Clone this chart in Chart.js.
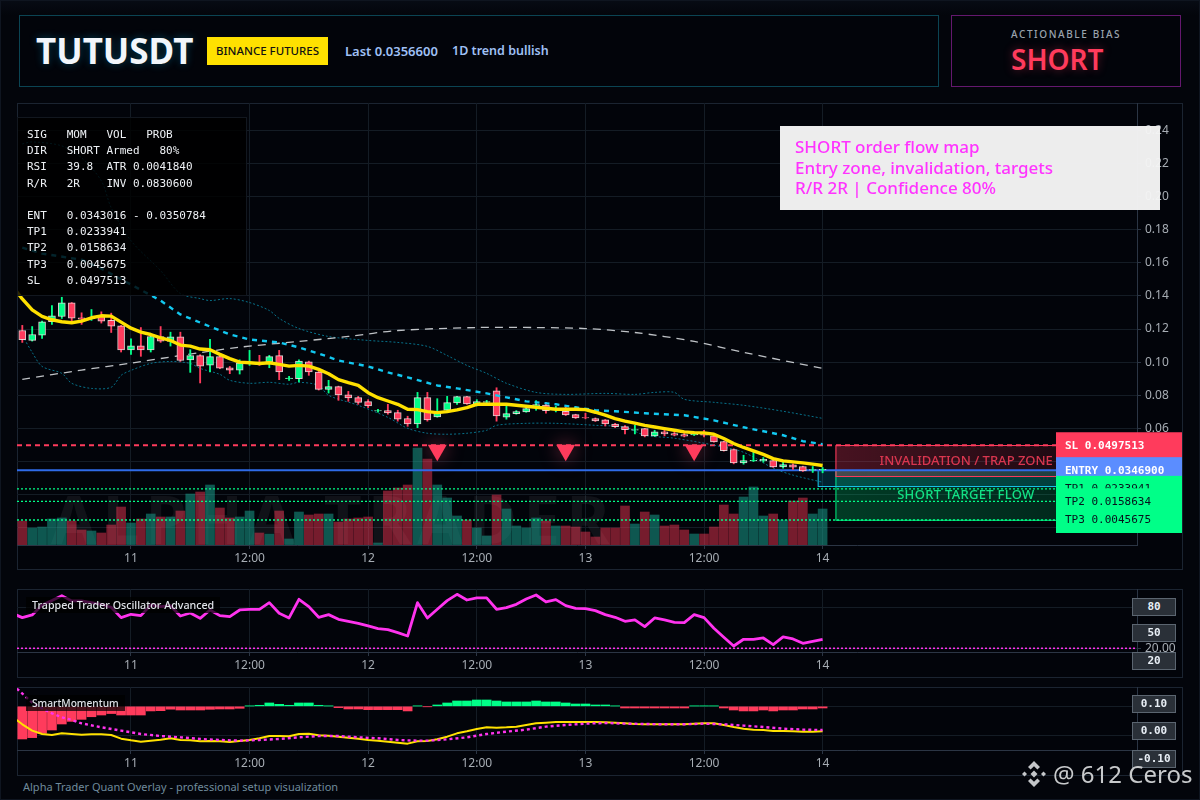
<!DOCTYPE html>
<html><head><meta charset="utf-8">
<script src="https://cdn.jsdelivr.net/npm/chart.js@4"></script>
<style>
html,body{margin:0;padding:0;width:1200px;height:800px;overflow:hidden;background:#03050b;}
body{position:relative;font-family:"Noto Sans",sans-serif;}
.abs{position:absolute;white-space:pre;}
.pane{position:absolute;box-sizing:border-box;border:1px solid #1b2431;background:#02040a;left:17px;width:1166px;}
canvas{position:absolute;left:17px;}
.badge{position:absolute;left:1132px;width:44px;height:18px;box-sizing:border-box;background:#2a3038;border:1px solid #5b6570;color:#e8eef5;font:bold 11px/16px "DejaVu Sans Mono",monospace;text-align:center;}
.paneTitle{position:absolute;left:26px;height:16px;background:rgba(0,0,0,.72);color:#dfe3e8;font:500 10.7px/16px "Noto Sans",sans-serif;padding:0 6px;white-space:pre;}
</style></head><body>
<div class="abs" style="left:0;top:0;width:1200px;height:800px;box-sizing:border-box;border:1px solid #0f1520;background:linear-gradient(180deg,#070b14 0,#03050b 14px);"></div>
<div class="abs" style="left:19px;top:15px;width:920px;height:72px;box-sizing:border-box;border:1px solid #0b4453;background:#02040a;"></div>
<div class="abs" style="left:951px;top:15px;width:230px;height:72px;box-sizing:border-box;border:1px solid #64186e;background:#02040a;"></div>
<div class="abs" style="left:36px;top:26px;font:bold 35px/50px 'Noto Sans',sans-serif;color:#f2f6fb;text-shadow:0 0 8px rgba(0,200,255,.3);">TUTUSDT</div>
<div class="abs" style="left:207px;top:37px;width:121px;height:28px;background:#ffe100;color:#111;font:500 11.5px/28px 'Noto Sans',sans-serif;text-align:center;">BINANCE FUTURES</div>
<div class="abs" style="left:345px;top:42px;font:600 13px/18px 'Noto Sans',sans-serif;color:#9fc0f5;">Last 0.0356600</div>
<div class="abs" style="left:452px;top:42px;font:600 12.5px/18px 'Noto Sans',sans-serif;color:#9fc0f5;">1D trend bullish</div>
<div class="abs" style="left:1011px;top:26px;font:500 10px/16px 'Noto Sans',sans-serif;letter-spacing:1.6px;color:#9aa3ad;">ACTIONABLE BIAS</div>
<div class="abs" style="left:1011px;top:38px;font:600 28px/42px 'Noto Sans',sans-serif;color:#ff3b5c;text-shadow:0 0 10px rgba(255,59,92,.4);">SHORT</div>

<div class="pane" style="top:103px;height:467px;"></div>
<div class="pane" style="top:589px;height:89px;"></div>
<div class="pane" style="top:687px;height:89px;"></div>

<canvas id="mainC" width="1166" height="467" style="top:103px;"></canvas>
<canvas id="oscC" width="1166" height="89" style="top:589px;"></canvas>
<canvas id="momC" width="1166" height="89" style="top:687px;"></canvas>

<div class="abs" style="left:17px;top:117px;width:230px;height:179px;box-sizing:border-box;border:1px solid #12171f;background:rgba(0,0,0,.82);color:#eef1f5;font:11px/16.2px 'DejaVu Sans Mono',monospace;padding:9px 0 0 9px;">SIG   MOM   VOL   PROB
DIR   SHORT Armed   80%
RSI   39.8  ATR 0.0041840
R/R   2R    INV 0.0830600

ENT   0.0343016 - 0.0350784
TP1   0.0233941
TP2   0.0158634
TP3   0.0045675
SL    0.0497513</div>
<div class="abs" style="left:780px;top:126px;width:380px;height:84px;box-sizing:border-box;background:rgba(245,245,245,.97);color:#ff33ff;font:500 17px/20.5px 'Noto Sans',sans-serif;padding:11px 0 0 15px;">SHORT order flow map
Entry zone, invalidation, targets
R/R 2R | Confidence 80%</div>

<div class="paneTitle" style="top:597px;">Trapped Trader Oscillator Advanced</div>
<div class="paneTitle" style="top:695px;font-size:10.2px;">SmartMomentum</div>
<div class="badge" style="top:598px;">80</div>
<div class="badge" style="top:624px;">50</div>
<div class="badge" style="top:652px;">20</div>
<div class="badge" style="top:695px;">0.10</div>
<div class="badge" style="top:722px;">0.00</div>
<div class="badge" style="top:750px;">-0.10</div>
<div class="abs" style="left:23px;top:779px;font:11px/16px 'Noto Sans',sans-serif;color:#6f8b9c;">Alpha Trader Quant Overlay - professional setup visualization</div>
<svg class="abs" style="left:1020px;top:760px;" width="28" height="28" viewBox="0 0 28 28"><g fill="#c4c6c9"><path d="M14 1l6 6-2.6 2.6L14 6.2l-3.4 3.4L8 7z"/><path d="M14 27l6-6-2.6-2.6L14 21.800l-3.400-3.400L8 21z"/><path d="M14 10.500l3.500 3.500-3.500 3.500-3.500-3.500z"/><path d="M4.500 11.500l2.500 2.500-2.500 2.500L2 14z"/><path d="M23.500 11.500L26 14l-2.500 2.500L21 14z"/></g></svg>
<div class="abs" style="left:1053px;top:756px;font:24px/36px 'Noto Sans',sans-serif;color:#c8cacc;">@ 612 Ceros</div>

<script>
// ---------- categories / ticks ----------
const timeTickIndex = [11,23,35,46,57,69,81];
const timeTickLabels = ['11','12:00','12','12:00','13','12:00','14'];
const priceTicks = [0,0.02,0.04,0.06,0.08,0.10,0.12,0.14,0.16,0.18,0.20,0.22,0.24];
const oscTicks = [20,80];
const momTicks = [0,-0.1];
const xMin = -0.536, xMax = 112.82;

// ---------- candles ----------
const highs = [.1222,.1215,.1248,.1342,.1392,.1360,.1298,.1318,.1304,.1296,.1222,.1141,.1209,.1160,.1215,.1181,.1181,.1075,.1045,.1137,.1035,.0974,.1014,.1071,.1041,.1041,.1071,.0914,.1014,.1006,.0946,.0890,.0855,.0823,.0793,.0773,.0715,.0745,.0709,.0673,.0817,.0817,.0779,.0793,.0793,.0793,.0773,.0769,.0845,.0733,.0707,.0739,.0767,.0757,.0733,.0729,.0685,.0691,.0663,.0653,.0630,.0616,.0618,.0600,.0588,.0588,.0576,.0576,.0578,.0588,.0560,.0522,.0476,.0437,.0455,.0423,.0407,.0397,.0385,.0371,.0369,.0363];
const lows = [.1119,.1127,.1143,.1228,.1264,.1242,.1228,.1252,.1236,.1179,.1061,.1047,.1035,.1061,.1119,.1097,.1004,.0938,.0874,.0940,.0960,.0930,.0928,.0980,.0980,.0966,.0894,.0890,.0880,.0920,.0831,.0813,.0769,.0763,.0745,.0725,.0697,.0685,.0643,.0612,.0604,.0643,.0667,.0697,.0745,.0745,.0735,.0749,.0643,.0655,.0685,.0697,.0709,.0691,.0699,.0677,.0659,.0657,.0641,.0614,.0604,.0566,.0566,.0548,.0550,.0554,.0554,.0548,.0556,.0548,.0516,.0462,.0385,.0383,.0399,.0395,.0363,.0359,.0351,.0339,.0333,.0331];
const opens = [.1191,.1131,.1163,.1244,.1276,.1358,.1268,.1262,.1282,.1252,.1220,.1073,.1099,.1073,.1155,.1125,.1153,.1013,.1039,.0982,.1033,.0966,.0952,.0996,.1000,.1000,.1039,.0900,.0900,.1002,.0940,.0835,.0852,.0803,.0785,.0761,.0705,.0707,.0695,.0659,.0626,.0785,.0669,.0709,.0753,.0791,.0745,.0757,.0827,.0667,.0689,.0699,.0731,.0741,.0711,.0703,.0683,.0665,.0659,.0651,.0626,.0610,.0588,.0598,.0554,.0578,.0568,.0562,.0560,.0564,.0554,.0520,.0472,.0391,.0403,.0403,.0405,.0367,.0379,.0369,.0347,.0349];
const closes = [.1135,.1167,.1244,.1280,.1358,.1266,.1260,.1266,.1248,.1218,.1073,.1099,.1073,.1155,.1127,.1153,.1010,.1039,.0976,.1033,.0964,.0952,.0994,.1000,.0994,.1033,.0940,.0904,.1006,.0940,.0835,.0852,.0801,.0783,.0757,.0735,.0707,.0693,.0655,.0626,.0785,.0650,.0697,.0755,.0791,.0747,.0761,.0761,.0675,.0689,.0701,.0719,.0743,.0707,.0717,.0681,.0663,.0663,.0645,.0626,.0610,.0592,.0592,.0554,.0578,.0566,.0558,.0552,.0564,.0558,.0518,.0464,.0391,.0405,.0407,.0413,.0367,.0381,.0365,.0343,.0351,.0352];
const volumes = [24,17,18,26,27,24,15,14,12,20,38,22,26,31,28,28,34,51,53,60,37,27,28,34,12,11,34,6,33,30,31,31,23,26,27,28,2,54,57,60,97,86,60,47,29,25,17,9,50,36,19,17,27,24,19,19,18,13,8,17,17,39,21,33,30,19,20,15,11,11,18,40,31,48,58,29,31,25,44,47,31,36];

// ---------- main overlays (first value of emaLine sits one bar before the first candle) ----------
const emaLine = [.146,.1382,.1316,.1276,.1256,.1244,.1238,.1248,.1268,.1280,.1278,.1242,.1205,.1181,.1167,.1147,.1131,.1103,.1097,.1079,.1075,.1047,.1021,.1000,.0996,.0992,.0996,.0986,.0976,.0980,.0976,.0956,.0930,.0894,.0876,.0860,.0815,.0785,.0765,.0745,.0715,.0713,.0701,.0695,.0701,.0711,.0725,.0745,.0745,.0745,.0745,.0739,.0733,.0727,.0721,.0715,.0715,.0715,.0713,.0697,.0679,.0659,.0643,.0631,.0618,.0608,.0598,.0588,.0578,.0574,.0572,.0564,.0538,.0508,.0484,.0464,.0442,.0417,.0403,.0397,.0391,.0383,.0375];
const smaIndex = [0,2,6,8,11,14,16,18,21,23,26,28,30,32,35,37,39,42,44,47,49,51,54,56,58,60,63,67,70,73,77,79,81];
const smaValues = [.1692,.1656,.1619,.1565,.1469,.1372,.1288,.1239,.1167,.1137,.1119,.1089,.1052,.1010,.0974,.0938,.0908,.0859,.0841,.0811,.0787,.0763,.0745,.0727,.0709,.0703,.0691,.0679,.0648,.0606,.0558,.0522,.0504];
const bandUpperIndex = [0,1,4,6,8,9,11,14,16,18,19,21,23,25,26,28,31,35,38,41,43,45,47,49,52,55,59,62,64,66,67,70,73,77,81];
const bandUpperValues = [.2319,.2331,.2307,.2235,.2096,.1933,.1734,.1553,.1414,.1384,.1372,.1384,.1360,.1312,.1264,.1203,.1155,.1131,.1119,.1095,.1040,.0980,.0932,.0872,.0817,.0805,.0811,.0805,.0817,.0817,.0775,.0757,.0739,.0703,.0660];
const bandLowerIndex = [0,1,2,4,5,7,9,10,11,13,15,17,18,20,21,23,25,27,28,30,31,34,37,39,41,43,45,47,48,51,54,58,61,63,66,70,73,76,78,81];
const bandLowerValues = [.1161,.1059,.0974,.0932,.0872,.0841,.0848,.0920,.0950,.0992,.1004,.0992,.0962,.0926,.0890,.0872,.0878,.0866,.0878,.0859,.0799,.0739,.0666,.0600,.0570,.0564,.0570,.0588,.0618,.0630,.0630,.0618,.0606,.0558,.0540,.0498,.0455,.0359,.0317,.0274];
const longMaIndex = [0,6,11,16,22,28,33,38,46,52,57,62,68,73,81];
const longMaValues = [.0896,.0952,.0994,.1040,.1090,.1125,.1155,.1191,.1209,.1209,.1203,.1179,.1125,.1059,.0962];
const signalIndex = [42,55,68];
const signalValues = [.0467,.0467,.0467];

// ---------- levels ----------
const levelSL = 0.0497513, levelEntry = 0.03469, levelTP1 = 0.0233941, levelTP2 = 0.0158634, levelTP3 = 0.0045675;
const levelLabels = ['SL 0.0497513','ENTRY 0.0346900','TP1 0.0233941','TP2 0.0158634','TP3 0.0045675'];
const zoneStartIndex = 82.3, entryBoxStartIndex = 80.5, zoneEndIndex = 107;
const trapZone = [levelSL, 0.0310], targetZone = [levelEntry, levelTP3], entryBox = [levelEntry, 0.0250];

// ---------- oscillator ----------
const oscLine = [71,64.9,68.8,83.4,89.8,97.1,89.3,89.3,86.8,84.4,80,64.9,69.8,67.8,83.4,81,82.4,67.3,71.7,63.9,76.1,67.8,66.3,76.1,77.1,77.1,86.8,71.2,64.4,91.7,81,65.4,69.3,62.4,59.5,56.6,52.7,48.8,47.3,42.9,38,86.8,64.4,77.1,89.8,99,90.7,93.7,93.7,77.1,79.5,84.4,92.2,98,87.8,91.2,82.4,78.5,78,75.1,69.3,65.4,59.5,61.5,51.7,64.4,61.5,58,57.6,69.3,64.9,49.3,36.1,23.4,33.2,33.2,35.1,25.4,36.6,33.7,27.3,30.2,33.2];
const oscLevel = 20;

// ---------- momentum ----------
const momHist = [-.1127,-.108,-.093,-.0817,-.061,-.052,-.045,-.036,-.030,-.025,-.030,-.030,-.030,-.016,-.015,-.010,-.0127,-.0127,-.0127,-.0104,-.0092,-.0092,-.0069,.001,.0035,.0115,.0069,.0035,.0115,.0115,.0035,.001,-.0046,-.0092,-.0092,-.0115,-.0115,-.0115,-.0115,-.016,.001,-.001,.0046,.0115,.0184,.0184,.0218,.0218,.0184,.015,.015,.015,.0184,.015,.015,.0115,.008,.008,.0046,.0046,.001,-.0058,-.0058,-.0058,-.0058,-.0058,-.0058,-.0058,.001,.001,.001,-.0058,-.0127,-.016,-.016,-.0127,-.016,-.0127,-.0127,-.0092,-.0092,-.0058];
const momLine = [-.0357,-.0621,-.084,-.0955,-.099,-.0932,-.0955,-.0978,-.0966,-.0966,-.099,-.1116,-.1173,-.1219,-.1185,-.115,-.1104,-.1162,-.1173,-.1208,-.1196,-.1208,-.1231,-.1196,-.1162,-.1104,-.1024,-.1024,-.1035,-.0955,-.0943,-.1001,-.1012,-.1047,-.1081,-.1116,-.1162,-.1185,-.1219,-.1254,-.1288,-.1208,-.1196,-.1139,-.1047,-.0932,-.0863,-.0782,-.0725,-.0736,-.0725,-.0702,-.0644,-.0587,-.0564,-.0541,-.0541,-.0541,-.0541,-.0541,-.0552,-.0564,-.0587,-.061,-.0621,-.0621,-.0621,-.0621,-.0621,-.0598,-.0587,-.0587,-.0644,-.0713,-.0771,-.0805,-.0817,-.0851,-.0851,-.0863,-.0874,-.0874,-.0863];
const momSignalIndex = [-1,1,2,3,4,5,6,8,10,12,14,16,18,20,22,24,26,28,30,32,34,36,38,40,41,43,45,47,49,51,53,55,57,59,61,63,65,67,69,71,73,75,77,79,81];
const momSignalValues = [.0748,.0127,-.0069,-.0242,-.038,-.0472,-.0587,-.0725,-.084,-.0955,-.1024,-.107,-.1127,-.1162,-.1185,-.1162,-.1127,-.107,-.1024,-.1024,-.107,-.1104,-.1162,-.1185,-.1185,-.1139,-.107,-.0955,-.0874,-.0805,-.0702,-.0644,-.0598,-.0575,-.0598,-.061,-.0621,-.0621,-.0598,-.0621,-.0667,-.0713,-.0771,-.0805,-.0817];

// ---------- colours ----------
const UP='#00ff88', DOWN='#ff3b5c', YEL='#ffe100', MAG='#ff33ee', GRID='#141c25', AXIS='#2b3544', TICK='#a7adb4';
Chart.defaults.font.family='"Noto Sans",sans-serif';
Chart.defaults.font.size=12;
Chart.defaults.color=TICK;

const pts=(xs,ys)=>ys.map((y,i)=>({x:xs[i],y}));
const seq=(a,from)=>a.map((y,i)=>({x:i+from,y}));
const isUp=i=>closes[i]>=opens[i];
const hline=v=>[{x:xMin,y:v},{x:xMax,y:v}];
const line=(data,extra)=>Object.assign({type:'line',data,pointRadius:0,fill:false,tension:0,borderJoinStyle:'round'},extra);

function xAxis(h){return {type:'linear',offset:false,min:xMin,max:xMax,
  afterBuildTicks:s=>{s.ticks=timeTickIndex.map(v=>({value:v}));},
  afterFit:s=>{s.height=h;s.paddingLeft=0;s.paddingRight=0;},
  ticks:{autoSkip:false,maxRotation:0,padding:2,color:TICK,callback:v=>{const k=timeTickIndex.indexOf(v);return k<0?'':timeTickLabels[k];}},
  grid:{offset:false,color:GRID,tickColor:AXIS,tickLength:4},border:{color:AXIS,width:1}};}
function yAxis(min,max,list,cb){return {type:'linear',position:'right',min,max,
  afterBuildTicks:s=>{s.ticks=list.map(v=>({value:v}));},
  afterFit:s=>{s.width=46;s.paddingTop=0;s.paddingBottom=0;},
  ticks:{autoSkip:false,padding:4,color:TICK,callback:cb},
  grid:{color:GRID,tickColor:AXIS,tickLength:4},border:{color:AXIS,width:1}};}
const baseOpts=()=>({responsive:false,animation:false,events:[],layout:{padding:0,autoPadding:false},
  plugins:{legend:{display:false},tooltip:{enabled:false}}});

const glowPlugin={id:'glow',
  beforeDatasetDraw(c,a){const d=c.data.datasets[a.index];c.ctx.save();if(d.glow){c.ctx.shadowColor=d.glow;c.ctx.shadowBlur=d.glowBlur||14;}},
  afterDatasetDraw(c){c.ctx.restore();}};

const overlayPlugin={id:'overlay',
  beforeDatasetsDraw(c){
    const {ctx,chartArea:a,scales:{x,y}}=c;
    ctx.save();
    ctx.beginPath();ctx.rect(a.left,a.top,a.width,a.height);ctx.clip();
    // watermark
    ctx.font='bold 66px "Noto Sans",sans-serif';
    ctx.letterSpacing='6px';
    ctx.fillStyle='rgba(255,255,255,.06)';ctx.textBaseline='alphabetic';ctx.textAlign='left';
    ctx.fillText('ALPHA TRADER',x.getPixelForValue(2.9),y.getPixelForValue(-0.0100));
    ctx.letterSpacing='0px';
    const zone=(i0,i1,r,fillA,fillB,stroke)=>{
      const L=x.getPixelForValue(i0),R=x.getPixelForValue(i1),T=y.getPixelForValue(r[0]),B=y.getPixelForValue(r[1]);
      const g=ctx.createLinearGradient(L,0,R,0);g.addColorStop(0,fillA);g.addColorStop(1,fillB);
      ctx.fillStyle=g;ctx.fillRect(L,T,R-L,B-T);
      ctx.strokeStyle=stroke;ctx.lineWidth=1;ctx.strokeRect(L+.5,Math.round(T)+.5,R-L,B-T);
    };
    zone(zoneStartIndex,zoneEndIndex,targetZone,'rgba(0,255,136,.22)','rgba(0,255,136,.14)','#00e67c');
    zone(entryBoxStartIndex,zoneEndIndex,entryBox,'rgba(0,200,255,.16)','rgba(0,200,255,.14)','#18c4ea');
    zone(zoneStartIndex,zoneEndIndex,trapZone,'rgba(255,59,92,.28)','rgba(255,59,92,.10)','#ff3b5c');
    ctx.restore();
  },
  afterDatasetsDraw(c){
    const {ctx,scales:{x,y}}=c;
    ctx.save();
    ctx.textAlign='right';ctx.textBaseline='middle';
    ctx.font='500 13px "Noto Sans",sans-serif';
    const r=x.getPixelForValue(zoneEndIndex-2.5)-2;
    ctx.fillStyle='#d9364f';
    ctx.fillText('INVALIDATION / TRAP ZONE',r,y.getPixelForValue(0.0400));
    ctx.textAlign='center';ctx.fillStyle='#12e085';ctx.letterSpacing='.3px';
    ctx.fillText('SHORT TARGET FLOW',x.getPixelForValue(95.5),y.getPixelForValue(0.0196));
    ctx.letterSpacing='0px';
    ctx.restore();
  },
  afterDraw(c){
    const {ctx,scales:{x,y}}=c;
    const L=1056-17,W=126,H=26;
    const vals=[levelSL,levelEntry,levelTP1,levelTP2,levelTP3];
    const bg=['#ff3b5c','#5b8dff','#00ff88','#00ff88','#00ff88'];
    const fg=['#fff','#fff','#06121c','#06121c','#06121c'];
    ctx.save();ctx.textBaseline='middle';ctx.textAlign='left';
    vals.forEach((v,i)=>{
      const cy=y.getPixelForValue(v);
      ctx.fillStyle=bg[i];ctx.fillRect(L,cy-H/2,W,H);
      ctx.fillStyle=fg[i];
      ctx.font=(i<2?'bold ':'')+'11px "DejaVu Sans Mono",monospace';
      ctx.fillText(levelLabels[i],L+9,cy+.5);
    });
    ctx.restore();
  }};

new Chart(document.getElementById('mainC'),{
  type:'bar',
  plugins:[glowPlugin,overlayPlugin],
  data:{datasets:[
    {type:'bar',order:20,yAxisID:'yVol',grouped:false,barThickness:9,borderWidth:0,
      data:volumes.map((v,i)=>({x:i,y:v})),
      backgroundColor:volumes.map((v,i)=>isUp(i)?'rgba(26,170,150,.5)':'rgba(255,56,88,.46)')},
    line(hline(levelSL),{order:15,borderColor:DOWN,borderWidth:2,borderDash:[5,4]}),
    line(hline(levelEntry),{order:15,borderColor:'#2f6be8',borderWidth:2}),
    line(hline(levelTP1),{order:15,borderColor:UP,borderWidth:1.3,borderDash:[2,2]}),
    line(hline(levelTP2),{order:15,borderColor:UP,borderWidth:1.3,borderDash:[2,2]}),
    line(hline(levelTP3),{order:15,borderColor:UP,borderWidth:1.3,borderDash:[2,2]}),
    line(pts(bandUpperIndex,bandUpperValues),{order:12,borderColor:'rgba(10,150,180,.75)',borderWidth:1,borderDash:[2,2],tension:.3}),
    line(pts(bandLowerIndex,bandLowerValues),{order:12,borderColor:'rgba(10,150,180,.75)',borderWidth:1,borderDash:[2,2],tension:.3}),
    line(pts(longMaIndex,longMaValues),{order:11,borderColor:'rgba(225,228,232,.85)',borderWidth:1.3,borderDash:[8,6],tension:.3}),
    {type:'bar',order:9,grouped:false,barThickness:1.2,borderWidth:0,
      data:highs.map((h,i)=>({x:i,y:[lows[i],h]})),
      backgroundColor:highs.map((h,i)=>isUp(i)?UP:DOWN)},
    {type:'bar',order:8,grouped:false,barThickness:7,borderWidth:1,borderSkipped:false,borderColor:'rgba(255,240,240,.85)',
      data:opens.map((o,i)=>({x:i,y:[Math.min(o,closes[i]),Math.max(o,closes[i])]})),
      backgroundColor:opens.map((o,i)=>isUp(i)?UP:DOWN)},
    line(pts(smaIndex,smaValues),{order:7,borderColor:'#12c8f0',borderWidth:2.4,borderDash:[5,5]}),
    line(seq(emaLine,-1),{order:5,borderColor:YEL,borderWidth:3.4}),
    {type:'scatter',order:3,data:pts(signalIndex,signalValues),pointStyle:'triangle',rotation:180,pointRadius:11,
      pointBackgroundColor:DOWN,pointBorderWidth:0,showLine:false,glow:'rgba(255,90,120,.55)',glowBlur:18}
  ]},
  options:Object.assign(baseOpts(),{scales:{
    x:xAxis(25),
    y:yAxis(-0.01055,0.25663,priceTicks,v=>v.toFixed(2)),
    yVol:{type:'linear',display:false,min:0,max:442,grid:{display:false}}
  }})
});

new Chart(document.getElementById('oscC'),{
  type:'line',
  data:{datasets:[
    line(hline(oscLevel),{order:5,borderColor:MAG,borderWidth:1.5,borderDash:[2,2]}),
    line(seq(oscLine,-1),{order:1,borderColor:MAG,borderWidth:2.8})
  ]},
  options:Object.assign(baseOpts(),{scales:{
    x:xAxis(26),
    y:yAxis(14.58,106.8,oscTicks,v=>v===20?'20.00':'')
  }})
});

new Chart(document.getElementById('momC'),{
  type:'bar',
  data:{datasets:[
    {type:'bar',order:5,grouped:false,barThickness:9,borderWidth:0,
      data:momHist.map((v,i)=>({x:i,y:v})),
      backgroundColor:momHist.map(v=>v>=0?UP:DOWN)},
    line(seq(momLine,-1),{order:2,borderColor:YEL,borderWidth:2}),
    line(pts(momSignalIndex,momSignalValues),{order:1,borderColor:MAG,borderWidth:2.4,borderDash:[3,3]})
  ]},
  options:Object.assign(baseOpts(),{scales:{
    x:xAxis(26),
    y:yAxis(-0.1507,0.0666,momTicks,()=>'')
  }})
});
</script>
</body></html>
